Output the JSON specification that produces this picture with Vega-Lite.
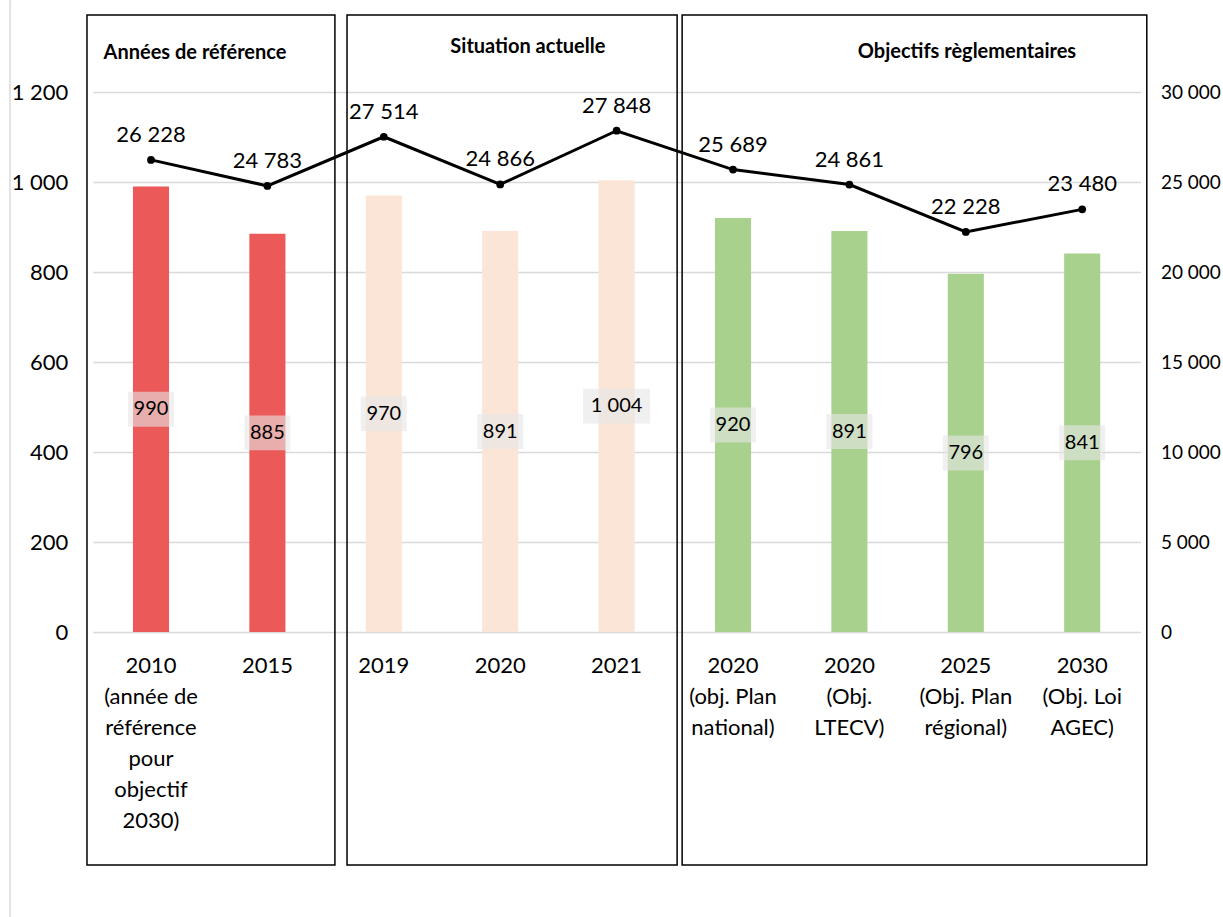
{
  "$schema": "https://vega.github.io/schema/vega-lite/v6.json",
  "width": 1047.6,
  "height": 540,
  "autosize": {"type": "none"},
  "padding": {"left": 92.8, "top": 92, "right": 82.6, "bottom": 285},
  "background": "#ffffff",
  "config": {
    "view": {"stroke": null},
    "font": "Lato",
    "locale": {"number": {"decimal": ",", "thousands": " ", "grouping": [3], "currency": ["", " €"]}}
  },
  "datasets": {
    "donnees": [
      {"cat": "2010|(année de|référence|pour|objectif|2030)", "groupe": "Années de référence", "ratio": 990, "tonnage": 26228},
      {"cat": "2015", "groupe": "Années de référence", "ratio": 885, "tonnage": 24783},
      {"cat": "2019", "groupe": "Situation actuelle", "ratio": 970, "tonnage": 27514},
      {"cat": "2020", "groupe": "Situation actuelle", "ratio": 891, "tonnage": 24866},
      {"cat": "2021", "groupe": "Situation actuelle", "ratio": 1004, "tonnage": 27848},
      {"cat": "2020|(obj. Plan|national)", "groupe": "Objectifs règlementaires", "ratio": 920, "tonnage": 25689},
      {"cat": "2020|(Obj.|LTECV)", "groupe": "Objectifs règlementaires", "ratio": 891, "tonnage": 24861},
      {"cat": "2025|(Obj. Plan|régional)", "groupe": "Objectifs règlementaires", "ratio": 796, "tonnage": 22228},
      {"cat": "2030|(Obj. Loi|AGEC)", "groupe": "Objectifs règlementaires", "ratio": 841, "tonnage": 23480}
    ]
  },
  "layer": [
    {
      "data": {"values": [{"cadre": "Années de référence"}]},
      "layer": [
        {
          "mark": {"type": "rule", "stroke": "#e3e3e3", "strokeWidth": 2},
          "encoding": {
            "x": {"datum": -0.711, "type": "quantitative", "scale": {"domain": [0, 9], "nice": false, "zero": false}, "axis": null},
            "y": {"datum": 1404, "type": "quantitative", "scale": {"domain": [0, 1200], "nice": false}, "axis": null},
            "y2": {"datum": -634}
          }
        },
        {
          "mark": {"type": "rect", "fill": "#ffffff", "fillOpacity": 0, "stroke": "#000000", "strokeWidth": 1.5},
          "encoding": {
            "x": {"datum": -0.05, "type": "quantitative"},
            "x2": {"datum": 2.08},
            "y": {"datum": 1371, "type": "quantitative"},
            "y2": {"datum": -518}
          }
        },
        {
          "mark": {"type": "rect", "fill": "#ffffff", "fillOpacity": 0, "stroke": "#000000", "strokeWidth": 1.5},
          "encoding": {
            "x": {"datum": 2.184, "type": "quantitative"},
            "x2": {"datum": 5.02},
            "y": {"datum": 1371, "type": "quantitative"},
            "y2": {"datum": -518}
          }
        },
        {
          "mark": {"type": "rect", "fill": "#ffffff", "fillOpacity": 0, "stroke": "#000000", "strokeWidth": 1.5},
          "encoding": {
            "x": {"datum": 5.063, "type": "quantitative"},
            "x2": {"datum": 9.055},
            "y": {"datum": 1371, "type": "quantitative"},
            "y2": {"datum": -518}
          }
        },
        {
          "mark": {"type": "text", "fontSize": 20, "fontWeight": "bold", "align": "center", "baseline": "middle", "color": "#000000"},
          "encoding": {
            "x": {"datum": 0.878, "type": "quantitative"},
            "y": {"datum": 1287, "type": "quantitative"},
            "text": {"value": "Années de référence"}
          }
        },
        {
          "mark": {"type": "text", "fontSize": 20, "fontWeight": "bold", "align": "center", "baseline": "middle", "color": "#000000"},
          "encoding": {
            "x": {"datum": 3.738, "type": "quantitative"},
            "y": {"datum": 1300, "type": "quantitative"},
            "text": {"value": "Situation actuelle"}
          }
        },
        {
          "mark": {"type": "text", "fontSize": 20, "fontWeight": "bold", "align": "center", "baseline": "middle", "color": "#000000"},
          "encoding": {
            "x": {"datum": 7.51, "type": "quantitative"},
            "y": {"datum": 1289, "type": "quantitative"},
            "text": {"value": "Objectifs règlementaires"}
          }
        }
      ]
    },
    {
      "data": {"name": "donnees"},
      "encoding": {
        "x": {
          "field": "cat", "type": "nominal", "sort": null,
          "scale": {"paddingInner": 0.69, "paddingOuter": 0.345},
          "axis": {
            "orient": "bottom",
            "title": null, "labelAngle": 0, "ticks": false, "tickSize": 0, "domain": false,
            "labelFontSize": 22, "labelLineHeight": 31, "labelPadding": 23, "labelColor": "#000000",
            "labelExpr": "split(datum.label, '|')", "labelLimit": 400, "labelOverlap": false, "labelBound": false
          }
        }
      },
      "layer": [
        {
          "mark": {"type": "bar"},
          "encoding": {
            "y": {
              "field": "ratio", "type": "quantitative",
              "scale": {"domain": [0, 1200], "nice": false},
              "axis": {
                "orient": "left", "title": null, "values": [0, 200, 400, 600, 800, 1000, 1200],
                "format": ",d", "grid": true, "gridColor": "#d9d9d9", "gridWidth": 1.5,
                "domain": false, "ticks": false, "labelPadding": 25, "labelFontSize": 22, "labelColor": "#000000"
              }
            },
            "color": {
              "field": "groupe", "type": "nominal",
              "scale": {"domain": ["Années de référence", "Situation actuelle", "Objectifs règlementaires"], "range": ["#ec5959", "#fbe5d6", "#a9d18e"]},
              "legend": null
            }
          }
        },
        {
          "encoding": {
            "y": {"field": "ratio", "type": "quantitative", "scale": {"domain": [0, 2400], "nice": false}, "axis": null}
          },
          "layer": [
            {
              "mark": {"type": "point", "filled": true, "color": "#e6e6e6", "fillOpacity": 0.6, "strokeWidth": 0},
              "encoding": {
                "shape": {"condition": {"test": "datum.ratio >= 1000", "value": "M-1,-0.52H1V0.52H-1Z"}, "value": "M-1,-0.76H1V0.76H-1Z"},
                "size": {"condition": {"test": "datum.ratio >= 1000", "value": 4489}, "value": 2116}
              }
            },
            {
              "mark": {"type": "text", "fontSize": 20, "align": "center", "baseline": "middle", "color": "#000000"},
              "encoding": {
                "text": {"field": "ratio", "type": "quantitative", "format": ",d"}
              }
            }
          ]
        },
        {
          "encoding": {
            "y": {
              "field": "tonnage", "type": "quantitative",
              "scale": {"domain": [0, 30000], "nice": false},
              "axis": {
                "orient": "right", "title": null, "values": [0, 5000, 10000, 15000, 20000, 25000, 30000],
                "format": ",d", "grid": false, "domain": false, "ticks": false,
                "labelPadding": 20, "labelFontSize": 19, "labelColor": "#000000"
              }
            }
          },
          "layer": [
            {"mark": {"type": "line", "color": "#000000", "strokeWidth": 3}},
            {"mark": {"type": "point", "filled": true, "color": "#000000", "size": 60, "opacity": 1}},
            {
              "mark": {"type": "text", "fontSize": 22, "align": "center", "baseline": "middle", "dy": -25, "color": "#000000"},
              "encoding": {"text": {"field": "tonnage", "type": "quantitative", "format": ",d"}}
            }
          ]
        }
      ],
      "resolve": {"scale": {"y": "independent"}}
    }
  ],
  "resolve": {"scale": {"x": "independent", "y": "independent"}}
}
